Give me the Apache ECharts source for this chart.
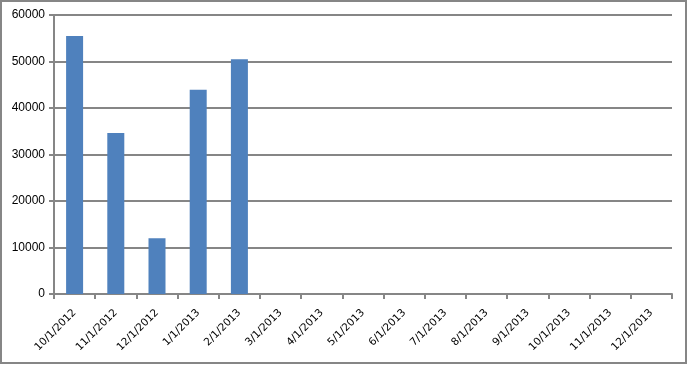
<!DOCTYPE html>
<html>
<head>
<meta charset="utf-8">
<script src="https://cdn.jsdelivr.net/npm/echarts@6/dist/echarts.min.js"></script>
<style>
html,body{margin:0;padding:0;background:#fff;}
#c{width:688px;height:365px;}
</style>
</head>
<body>
<div id="c"></div>
<script>
var categories = ["10/1/2012","11/1/2012","12/1/2012","1/1/2013","2/1/2013","3/1/2013","4/1/2013","5/1/2013","6/1/2013","7/1/2013","8/1/2013","9/1/2013","10/1/2013","11/1/2013","12/1/2013"];
var values = [55500, 34600, 12000, 43900, 50500, 0, 0, 0, 0, 0, 0, 0, 0, 0, 0];
var yTicks = [0, 10000, 20000, 30000, 40000, 50000, 60000];

var chart = echarts.init(document.getElementById('c'), null, {renderer:'canvas'});
chart.setOption({
  animation: false,
  backgroundColor: '#ffffff',
  grid: {left: 54, right: 16, top: 15, bottom: 71, containLabel: false},
  graphic: [{
    type: 'rect',
    shape: {x: 1, y: 1, width: 685, height: 362},
    style: {fill: 'none', stroke: '#868686', lineWidth: 2},
    silent: true
  }],
  xAxis: {
    type: 'category',
    data: categories,
    axisLine: {show: true, lineStyle: {color: '#868686', width: 2}},
    axisTick: {show: true, alignWithLabel: false, length: 5, lineStyle: {color: '#868686', width: 2}},
    axisLabel: {rotate: 45, interval: 0, color: '#000', fontFamily: 'DejaVu Sans', fontSize: 10.5, margin: 17}
  },
  yAxis: {
    type: 'value',
    min: yTicks[0],
    max: yTicks[yTicks.length - 1],
    interval: yTicks[1] - yTicks[0],
    axisLine: {show: true, lineStyle: {color: '#868686', width: 2}},
    axisTick: {show: true, length: 5, lineStyle: {color: '#868686', width: 2}},
    splitLine: {show: true, lineStyle: {color: '#868686', width: 2}},
    axisLabel: {color: '#000', fontFamily: 'Liberation Sans', fontSize: 12, margin: 9, formatter: function (v) { return String(v); }}
  },
  series: [{
    type: 'bar',
    data: values,
    barWidth: 17,
    itemStyle: {color: '#4F81BD'}
  }]
});
</script>
</body>
</html>
